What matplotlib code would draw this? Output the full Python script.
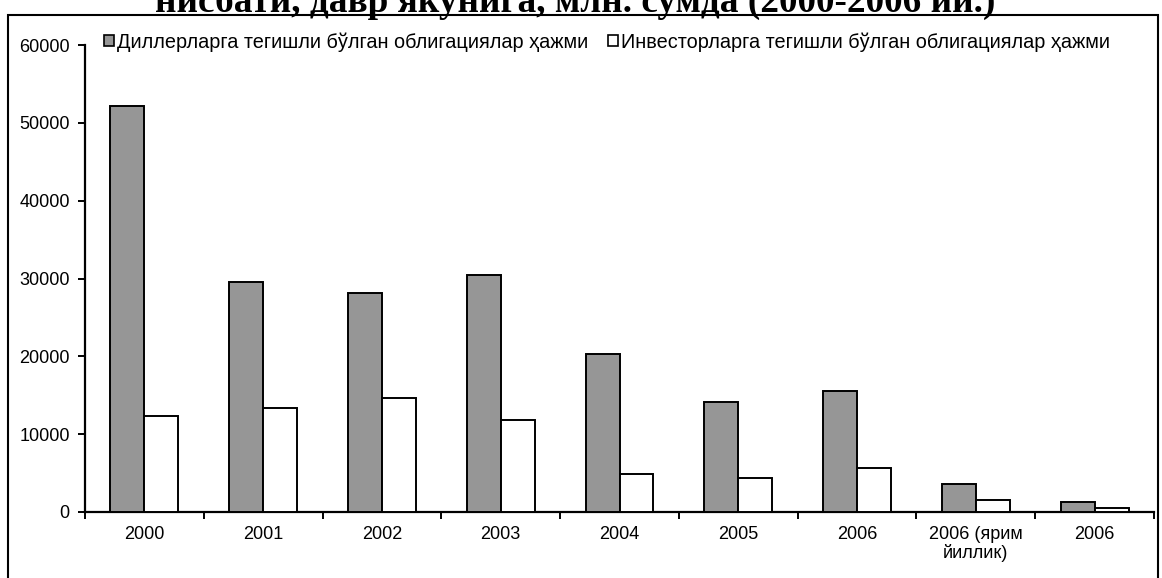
import matplotlib
matplotlib.use("Agg")
import matplotlib.pyplot as plt
from matplotlib.patches import Rectangle
import numpy as np

categories = ["2000", "2001", "2002", "2003", "2004", "2005", "2006",
              "2006 (ярим\nйиллик)", "2006"]
dealer = [52100, 29500, 28200, 30500, 20300, 14100, 15600, 3600, 1300]
investor = [12300, 13300, 14600, 11800, 4900, 4400, 5600, 1500, 500]
series_names = ["Диллерларга тегишли бўлган облигациялар ҳажми",
                "Инвесторларга тегишли бўлган облигациялар ҳажми"]
title = "нисбати, давр якунига, млн. сумда (2000-2006 йй.)"
yticks = [0, 10000, 20000, 30000, 40000, 50000, 60000]

W, H = 1162, 578
fig = plt.figure(figsize=(W / 100, H / 100), dpi=100)
plt.rcParams['font.family'] = ['Liberation Sans', 'DejaVu Sans']

# outer frame
fig.patches.append(Rectangle((8 / W, -0.05), (1158 - 8) / W, 1.05 - 15 / H,
                             transform=fig.transFigure, fill=False,
                             edgecolor='black', linewidth=1.5, zorder=0))

# title (clipped at top, as in the reference)
fig.text(575 / W, 1 - 12 / H, title, ha='center', va='baseline',
         fontsize=26.8, fontweight='bold', family=['Liberation Serif', 'DejaVu Serif'])

ax = fig.add_axes([85 / W, 1 - 512 / H, (1154 - 85) / W, (512 - 45) / H])
x = np.arange(len(categories))
w = 0.286
ax.bar(x - w / 2, dealer, w, color='#969696', edgecolor='black', linewidth=1.4,
       label=series_names[0], zorder=3)
ax.bar(x + w / 2, investor, w, color='white', edgecolor='black', linewidth=1.4,
       label=series_names[1], zorder=3)

ax.set_xlim(-0.5, len(categories) - 0.5)
ax.set_ylim(0, 60000)
ax.set_yticks(yticks)
ax.set_yticklabels([str(v) for v in yticks], fontsize=13)
ax.set_xticks(np.arange(len(categories) + 1) - 0.5)
ax.set_xticklabels([])
ax.set_xticks(x, minor=True)
ax.set_xticklabels(categories, minor=True, fontsize=13, linespacing=1.05)
ax.tick_params(axis='x', which='minor', length=0, pad=10)
ax.tick_params(axis='x', which='major', length=5, width=1.4, direction='out')
ax.tick_params(axis='y', length=5, width=1.4, direction='out', pad=6)
for s in ['top', 'right']:
    ax.spines[s].set_visible(False)
for s in ['left', 'bottom']:
    ax.spines[s].set_linewidth(1.6)
ax.patch.set_visible(False)

leg = ax.legend(loc='center left', bbox_to_anchor=(104 / W, 1 - 42 / H),
                bbox_transform=fig.transFigure, ncol=2, frameon=False,
                fontsize=14.3, handlelength=0.5, handleheight=0.5,
                handletextpad=0.15, columnspacing=1.0, borderpad=0,
                borderaxespad=0)
for h in leg.legend_handles:
    h.set_linewidth(1.2)

fig.savefig("out.png", dpi=100)
